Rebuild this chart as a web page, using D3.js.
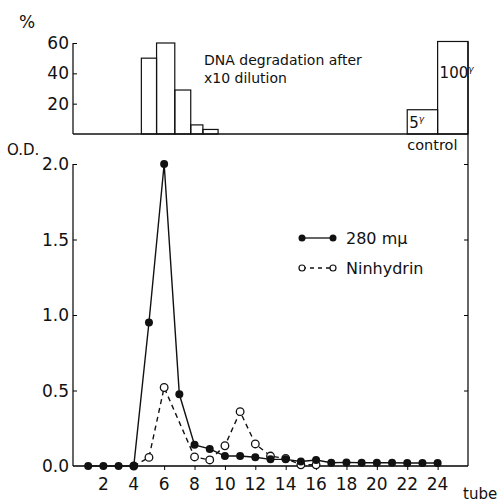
<!doctype html>
<html>
  <head>
    <script src="https://cdn.jsdelivr.net/npm/d3@7/dist/d3.min.js"></script>
    <style>
      body { margin:0; background:#fff; }
      text { font-family: "DejaVu Sans", sans-serif; fill:#111; }
    </style>
  </head>
  <body>
    <div id="my_dataviz"></div>
    <script>
      // tube numbers and O.D. readings
      var tubes280 = [1,2,3,4,5,6,7,8,9,10,11,12,13,14,15,16,17,18,19,20,21,22,23,24];
      var od280 = [0,0,0,0,0.95,2.0,0.475,0.14,0.113,0.066,0.066,0.058,0.044,0.044,0.03,0.04,0.022,0.024,0.022,0.022,0.022,0.02,0.02,0.02];
      var tubesNin = [4,5,6,8,9,10,11,12,13,14,15,16];
      var odNin = [0,0.057,0.52,0.06,0.04,0.134,0.36,0.146,0.066,0.05,0.008,0.008];

      // DNA degradation histogram (% per fraction), bin edges in tube units
      var degEdges = [4.5,5.5,6.7,7.75,8.55,9.55];
      var degValues = [50,60,29,6,3];
      // control bars
      var ctrlEdges = [22,24,26];
      var ctrlValues = [16,61];
      var ctrlLabels = ["5","100"];

      var xTicks = [2,4,6,8,10,12,14,16,18,20,22,24];
      var odTicks = [0,0.5,1.0,1.5,2.0];
      var pctTicks = [20,40,60];

      var width = 500, height = 503;
      var svg = d3.select("#my_dataviz")
        .append("svg")
          .attr("width", width)
          .attr("height", height);

      var x = d3.scaleLinear().domain([0,26]).range([73,468]);
      var yTop = d3.scaleLinear().domain([0,60]).range([134,43]);
      var y = d3.scaleLinear().domain([0,2]).range([466,164]);

      // ---- top panel: histogram
      var topPanel = svg.append("g");
      topPanel.selectAll("rect.deg")
        .data(degValues)
        .enter()
        .append("rect")
          .attr("x", function(d,i){ return x(degEdges[i]) })
          .attr("width", function(d,i){ return x(degEdges[i+1]) - x(degEdges[i]) })
          .attr("y", function(d){ return yTop(d) })
          .attr("height", function(d){ return yTop(0) - yTop(d) })
          .style("fill", "none")
          .style("stroke", "#111")
          .style("stroke-width", 1.2);

      topPanel.selectAll("rect.ctrl")
        .data(ctrlValues)
        .enter()
        .append("rect")
          .attr("x", function(d,i){ return x(ctrlEdges[i]) })
          .attr("width", function(d,i){ return x(ctrlEdges[i+1]) - x(ctrlEdges[i]) })
          .attr("y", function(d){ return yTop(d) })
          .attr("height", function(d){ return yTop(0) - yTop(d) })
          .style("fill", "none")
          .style("stroke", "#111")
          .style("stroke-width", 1.2);

      // labels inside control bars
      var cl = topPanel.selectAll("text.ctrl")
        .data(ctrlLabels)
        .enter()
        .append("text")
          .attr("x", function(d,i){ return x(ctrlEdges[i]) + 2 })
          .attr("y", function(d,i){ return i == 0 ? yTop(0) - 6 : yTop(ctrlValues[i]) + 37 })
          .style("font-size", "15px");
      cl.append("tspan").text(function(d){ return d });
      cl.append("tspan")
          .attr("dy", -6)
          .style("font-size", "9px")
          .style("font-style", "italic")
          .text("γ");

      // top axis (left) and baseline
      topPanel.append("g")
        .attr("transform", "translate(" + x(0) + ",0)")
        .call(d3.axisRight(yTop).tickValues(pctTicks).tickSize(4).tickFormat(""))
        .call(function(g){ g.select(".domain").attr("d", "M0," + yTop(60) + "V" + yTop(0)).style("stroke-width", 1.2) });
      topPanel.selectAll("text.pct")
        .data(pctTicks)
        .enter()
        .append("text")
          .attr("x", x(0) - 4)
          .attr("y", function(d){ return yTop(d) + 6 })
          .attr("text-anchor", "end")
          .style("font-size", "17px")
          .text(function(d){ return d });
      topPanel.append("line")
        .attr("x1", x(0)).attr("x2", x(26))
        .attr("y1", yTop(0)).attr("y2", yTop(0))
        .style("stroke", "#111").style("stroke-width", 1.4);

      topPanel.append("text").attr("x", 19).attr("y", 28).style("font-size", "17px").text("%");
      topPanel.append("text").attr("x", 204).attr("y", 65).style("font-size", "14px").text("DNA degradation after");
      topPanel.append("text").attr("x", 204).attr("y", 83).style("font-size", "14px").text("x10 dilution");
      topPanel.append("text").attr("x", x(22)).attr("y", 150).style("font-size", "14.5px").text("control");

      // ---- main panel
      var main = svg.append("g");
      main.append("g")
        .attr("transform", "translate(" + x(0) + ",0)")
        .call(d3.axisRight(y).tickValues(odTicks.slice(1)).tickSize(4).tickFormat(""))
        .call(function(g){ g.select(".domain").attr("d", "M0," + y(2) + "V" + y(0)).style("stroke-width", 1.2) });
      main.append("g")
        .attr("transform", "translate(" + x(26) + ",0)")
        .call(d3.axisLeft(y).tickValues(odTicks.slice(1)).tickSize(4).tickFormat(""))
        .call(function(g){ g.select(".domain").attr("d", "M0," + yTop(61) + "V" + y(0)).style("stroke-width", 1.2) });
      main.selectAll("text.od")
        .data(odTicks)
        .enter()
        .append("text")
          .attr("x", x(0) - 4)
          .attr("y", function(d){ return y(d) + 6 })
          .attr("text-anchor", "end")
          .style("font-size", "17px")
          .text(function(d){ return d3.format(".1f")(d) });

      main.append("g")
        .attr("transform", "translate(0," + y(0) + ")")
        .call(d3.axisBottom(x).tickValues(xTicks).tickSize(4).tickPadding(4).tickFormat(""))
        .call(function(g){ g.select(".domain").attr("d", "M" + x(0) + ",0H" + x(26)).style("stroke-width", 1.4) });
      main.selectAll("text.tube")
        .data(xTicks)
        .enter()
        .append("text")
          .attr("x", function(d){ return x(d) })
          .attr("y", 490)
          .attr("text-anchor", "middle")
          .style("font-size", "17px")
          .text(function(d){ return d });

      main.append("text").attr("x", 463).attr("y", 499).style("font-size", "15px").text("tube");
      main.append("text").attr("x", 7).attr("y", 155).style("font-size", "15px").text("O.D.");

      // lines
      var data280 = tubes280.map(function(t,i){ return {t:t, v:od280[i]} });
      var dataNin = tubesNin.map(function(t,i){ return {t:t, v:odNin[i]} });
      var line = d3.line()
        .x(function(d){ return x(d.t) })
        .y(function(d){ return y(d.v) });

      main.append("path")
        .attr("d", line(dataNin))
        .style("fill", "none")
        .style("stroke", "#111")
        .style("stroke-width", 1.4)
        .style("stroke-dasharray", "5,4");
      main.selectAll("circle.nin")
        .data(dataNin)
        .enter()
        .append("circle")
          .attr("cx", function(d){ return x(d.t) })
          .attr("cy", function(d){ return y(d.v) })
          .attr("r", 3.8)
          .style("fill", "#fff")
          .style("stroke", "#111")
          .style("stroke-width", 1.3);

      main.append("path")
        .attr("d", line(data280))
        .style("fill", "none")
        .style("stroke", "#111")
        .style("stroke-width", 1.4);
      main.selectAll("circle.od")
        .data(data280)
        .enter()
        .append("circle")
          .attr("cx", function(d){ return x(d.t) })
          .attr("cy", function(d){ return y(d.v) })
          .attr("r", 4)
          .style("fill", "#111");

      // legend
      var legend = main.append("g");
      legend.append("line").attr("x1", 302).attr("x2", 333).attr("y1", 238).attr("y2", 238)
        .style("stroke", "#111").style("stroke-width", 1.3);
      legend.selectAll("circle.l1").data([302,333]).enter().append("circle")
        .attr("cx", function(d){ return d }).attr("cy", 238).attr("r", 3.5).style("fill", "#111");
      legend.append("text").attr("x", 346).attr("y", 244).style("font-size", "16px").text("280 mμ");
      legend.append("line").attr("x1", 302).attr("x2", 333).attr("y1", 268).attr("y2", 268)
        .style("stroke", "#111").style("stroke-width", 1.3).style("stroke-dasharray", "4,4");
      legend.selectAll("circle.l2").data([302,333]).enter().append("circle")
        .attr("cx", function(d){ return d }).attr("cy", 268).attr("r", 3).style("fill", "#fff")
        .style("stroke", "#111").style("stroke-width", 1.2);
      legend.append("text").attr("x", 346).attr("y", 274).style("font-size", "16px").text("Ninhydrin");
    </script>
  </body>
</html>
